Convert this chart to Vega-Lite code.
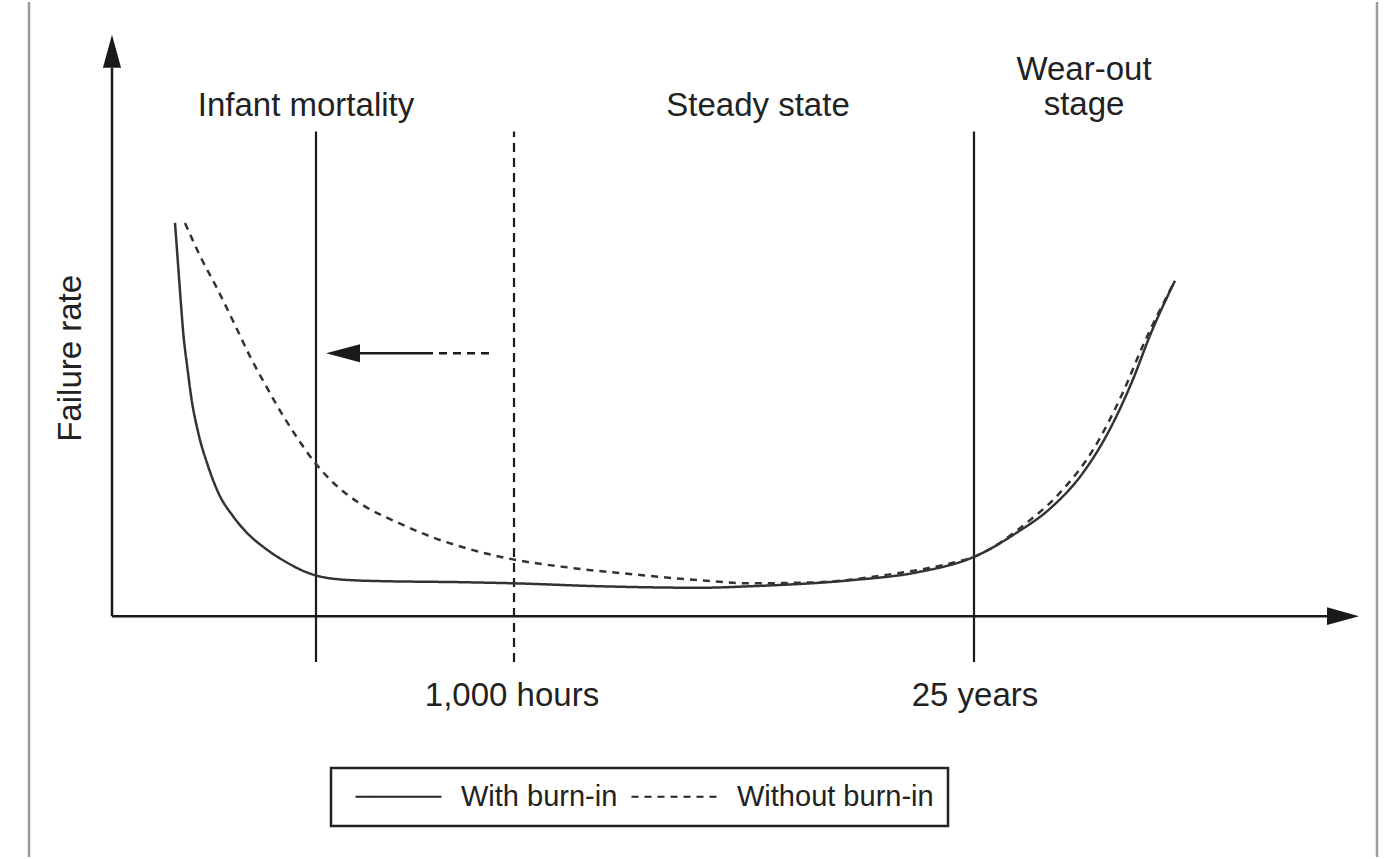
{
  "$schema": "https://vega.github.io/schema/vega-lite/v6.json",
  "width": 1393,
  "height": 859,
  "autosize": {"type": "fit", "contains": "padding"},
  "padding": 0,
  "background": "white",
  "config": {"view": {"stroke": null}, "text": {"font": "Liberation Sans", "color": "#222"}, "legend": {"strokeWidth": 2.5}},
  "encoding": {
    "x": {"field": "t", "type": "quantitative", "scale": {"domain": [0, 1393], "nice": false, "zero": false}, "axis": null},
    "y": {"field": "rate", "type": "quantitative", "scale": {"domain": [0, 859], "nice": false, "zero": false}, "axis": null}
  },
  "layer": [
    {
      "data": {"values": [{"t": 29, "rate": 0, "rate2": 859}, {"t": 1377, "rate": 0, "rate2": 859}]},
      "mark": {"type": "rule", "color": "#9a9a9a", "strokeWidth": 2.5},
      "encoding": {"y2": {"field": "rate2"}}
    },
    {
      "data": {"values": [{"t": 112, "rate": 242, "t2": 112, "rate2": 793}, {"t": 112, "rate": 242, "t2": 1330, "rate2": 242}]},
      "mark": {"type": "rule", "color": "#1a1a1a", "strokeWidth": 2.5},
      "encoding": {"x2": {"field": "t2"}, "y2": {"field": "rate2"}}
    },
    {
      "data": {"values": [{"t": 112, "rate": 809.5}]},
      "mark": {"type": "point", "shape": "M0,-1L0.55,1L-0.55,1Z", "size": 1089, "filled": true, "color": "#1a1a1a", "opacity": 1, "strokeWidth": 0}
    },
    {
      "data": {"values": [{"t": 1343, "rate": 242}]},
      "mark": {"type": "point", "shape": "M1,0L-1,-0.56L-1,0.56Z", "size": 1024, "filled": true, "color": "#1a1a1a", "opacity": 1, "strokeWidth": 0}
    },
    {
      "data": {"values": [{"t": 343, "rate": 506}]},
      "mark": {"type": "point", "shape": "M-1,0L1,-0.53L1,0.53Z", "size": 1156, "filled": true, "color": "#1a1a1a", "opacity": 1, "strokeWidth": 0}
    },
    {
      "data": {"values": [{"t": 358, "rate": 506, "t2": 425}]},
      "mark": {"type": "rule", "color": "#1a1a1a", "strokeWidth": 2.5},
      "encoding": {"x2": {"field": "t2"}}
    },
    {
      "data": {"values": [{"t": 425, "rate": 506, "t2": 494}]},
      "mark": {"type": "rule", "color": "#1a1a1a", "strokeWidth": 2.5, "strokeDash": [8, 6]},
      "encoding": {"x2": {"field": "t2"}}
    },
    {
      "data": {"values": [{"t": 316, "rate": 196, "rate2": 729}, {"t": 974, "rate": 196, "rate2": 729}]},
      "mark": {"type": "rule", "color": "#1a1a1a", "strokeWidth": 2.2},
      "encoding": {"y2": {"field": "rate2"}}
    },
    {
      "data": {"values": [{"t": 514, "rate": 196, "rate2": 729}]},
      "mark": {"type": "rule", "color": "#1a1a1a", "strokeWidth": 2.2, "strokeDash": [9, 6]},
      "encoding": {"y2": {"field": "rate2"}}
    },
    {
      "data": {"values": [
        {"series": "With burn-in", "t": 175, "rate": 637},
        {"series": "With burn-in", "t": 178.3, "rate": 592},
        {"series": "With burn-in", "t": 180.7, "rate": 559},
        {"series": "With burn-in", "t": 183.3, "rate": 526},
        {"series": "With burn-in", "t": 187.3, "rate": 492},
        {"series": "With burn-in", "t": 191.7, "rate": 459},
        {"series": "With burn-in", "t": 198.3, "rate": 426},
        {"series": "With burn-in", "t": 208.3, "rate": 392},
        {"series": "With burn-in", "t": 218.3, "rate": 366},
        {"series": "With burn-in", "t": 233.3, "rate": 342},
        {"series": "With burn-in", "t": 246.7, "rate": 326},
        {"series": "With burn-in", "t": 266.7, "rate": 309},
        {"series": "With burn-in", "t": 286.7, "rate": 296},
        {"series": "With burn-in", "t": 306.7, "rate": 286},
        {"series": "With burn-in", "t": 330, "rate": 280},
        {"series": "With burn-in", "t": 367, "rate": 277.5},
        {"series": "With burn-in", "t": 467, "rate": 276},
        {"series": "With burn-in", "t": 513, "rate": 275},
        {"series": "With burn-in", "t": 600, "rate": 272},
        {"series": "With burn-in", "t": 700, "rate": 270.5},
        {"series": "With burn-in", "t": 750, "rate": 272},
        {"series": "With burn-in", "t": 850, "rate": 278},
        {"series": "With burn-in", "t": 917, "rate": 286},
        {"series": "With burn-in", "t": 975, "rate": 302},
        {"series": "With burn-in", "t": 1017, "rate": 326},
        {"series": "With burn-in", "t": 1050, "rate": 350},
        {"series": "With burn-in", "t": 1083, "rate": 386},
        {"series": "With burn-in", "t": 1110, "rate": 430},
        {"series": "With burn-in", "t": 1133, "rate": 480},
        {"series": "With burn-in", "t": 1150, "rate": 524},
        {"series": "With burn-in", "t": 1175, "rate": 579},
        {"series": "Without burn-in", "t": 185, "rate": 637},
        {"series": "Without burn-in", "t": 200, "rate": 604},
        {"series": "Without burn-in", "t": 216.7, "rate": 572},
        {"series": "Without burn-in", "t": 233.3, "rate": 538},
        {"series": "Without burn-in", "t": 250, "rate": 503},
        {"series": "Without burn-in", "t": 266.7, "rate": 472},
        {"series": "Without burn-in", "t": 283.3, "rate": 443},
        {"series": "Without burn-in", "t": 300, "rate": 417},
        {"series": "Without burn-in", "t": 316.7, "rate": 394},
        {"series": "Without burn-in", "t": 333.3, "rate": 376},
        {"series": "Without burn-in", "t": 350, "rate": 362},
        {"series": "Without burn-in", "t": 367, "rate": 351},
        {"series": "Without burn-in", "t": 400, "rate": 335},
        {"series": "Without burn-in", "t": 433, "rate": 321},
        {"series": "Without burn-in", "t": 467, "rate": 310},
        {"series": "Without burn-in", "t": 513, "rate": 299},
        {"series": "Without burn-in", "t": 567, "rate": 291},
        {"series": "Without burn-in", "t": 633, "rate": 284},
        {"series": "Without burn-in", "t": 700, "rate": 278},
        {"series": "Without burn-in", "t": 750, "rate": 275},
        {"series": "Without burn-in", "t": 817, "rate": 276},
        {"series": "Without burn-in", "t": 883, "rate": 283},
        {"series": "Without burn-in", "t": 950, "rate": 295},
        {"series": "Without burn-in", "t": 975, "rate": 302},
        {"series": "Without burn-in", "t": 1027, "rate": 336},
        {"series": "Without burn-in", "t": 1060, "rate": 366},
        {"series": "Without burn-in", "t": 1093, "rate": 409},
        {"series": "Without burn-in", "t": 1123, "rate": 467},
        {"series": "Without burn-in", "t": 1143, "rate": 514},
        {"series": "Without burn-in", "t": 1175, "rate": 579}
      ]},
      "mark": {"type": "line", "interpolate": "monotone", "color": "#333", "strokeWidth": 2.5},
      "encoding": {
        "strokeDash": {
          "field": "series",
          "type": "nominal",
          "scale": {"domain": ["With burn-in", "Without burn-in"], "range": [[1, 0], [7, 6]]},
          "legend": {
            "orient": "none",
            "legendX": 331,
            "legendY": 766,
            "direction": "horizontal",
            "title": null,
            "symbolType": "M-4,0L4,0",
            "symbolSize": 462,
            "symbolStrokeWidth": 2,
            "symbolStrokeColor": "#222",
            "symbolOffset": 39,
            "labelFont": "Liberation Sans",
            "labelFontSize": 29,
            "labelColor": "#222",
            "labelOffset": 48,
            "labelLimit": 400,
            "labelExpr": "datum.label == 'Without burn-in' ? datum.label + '  ' : datum.label",
            "columnPadding": 3,
            "strokeColor": "#222",
            "padding": 14,
            "fillColor": "white"
          }
        }
      }
    },
    {
      "data": {"values": [
        {"label": "Infant mortality", "t": 306, "rate": 744},
        {"label": "Steady state", "t": 758, "rate": 744},
        {"label": "Wear-out", "t": 1084, "rate": 781},
        {"label": "stage", "t": 1084, "rate": 745},
        {"label": "1,000 hours", "t": 512, "rate": 152},
        {"label": "25 years", "t": 975, "rate": 152}
      ]},
      "mark": {"type": "text", "fontSize": 33, "align": "center", "baseline": "alphabetic"},
      "encoding": {"text": {"field": "label"}}
    },
    {
      "data": {"values": [{"label": "Failure rate", "t": 81, "rate": 501}]},
      "mark": {"type": "text", "fontSize": 33, "align": "center", "baseline": "alphabetic", "angle": 270},
      "encoding": {"text": {"field": "label"}}
    }
  ]
}
